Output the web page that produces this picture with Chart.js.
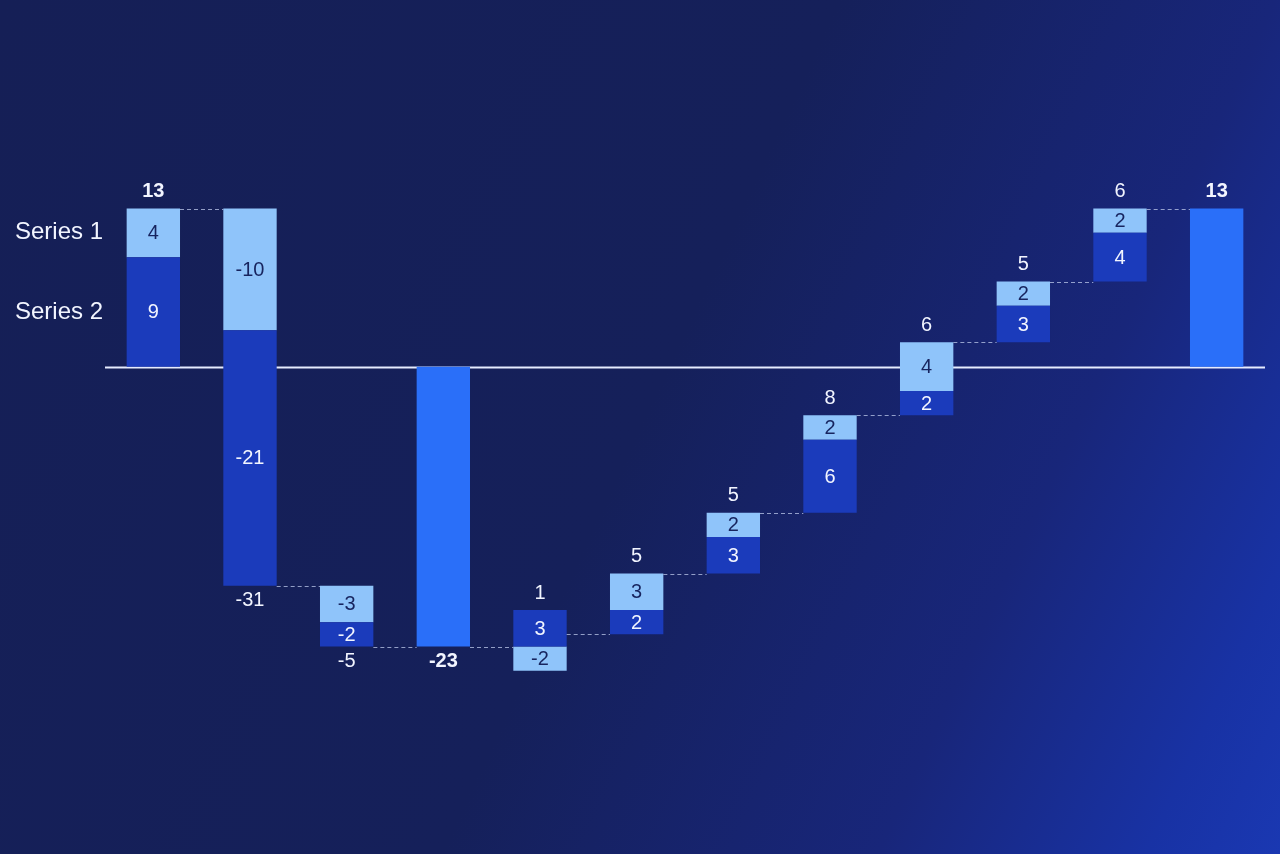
<!DOCTYPE html>
<html>
<head>
<meta charset="utf-8">
<title>Waterfall</title>
<script src="https://cdn.jsdelivr.net/npm/chart.js@4.4.1/dist/chart.umd.min.js"></script>
<style>
  html, body { margin: 0; padding: 0; width: 1280px; height: 854px; overflow: hidden; }
  body { background: linear-gradient(115deg, #151f56 0%, #15205a 50%, #18267a 76%, #1832a4 92%, #1a38b2 100%); }
  #wrap { position: relative; width: 1280px; height: 854px; }
</style>
</head>
<body>
<div id="wrap"><canvas id="chart"></canvas></div>
<script>
// categories are not shown on the chart, only used as slots
const categories = ["Start", "Step 1", "Step 2", "Subtotal", "Step 3", "Step 4", "Step 5", "Step 6", "Step 7", "Step 8", "Step 9", "End"];
const kinds = ["start", "step", "step", "total", "step", "step", "step", "step", "step", "step", "step", "total"];
const series1 = [4, -10, -3, null, -2, 3, 2, 2, 4, 2, 2, null];
const series2 = [9, -21, -2, null, 3, 2, 3, 6, 2, 3, 4, null];
const seriesNames = ["Series 1", "Series 2"];
const yMin = -38, yMax = 28;

const LIGHT = "#8fc4fa", DARK = "#1b3bbb", TOTAL = "#2a6ff9";
const FONT = "'Liberation Sans', Arial, sans-serif";

// build floating ranges for the waterfall
const s1Ranges = [], s2Ranges = [], totalRanges = [], ends = [], nets = [];
let level = 0;
categories.forEach((c, i) => {
  if (kinds[i] === "total") {
    s1Ranges.push(null);
    s2Ranges.push(null);
    totalRanges.push([0, level]);
    nets.push(level);
    ends.push(level);
    return;
  }
  const base = kinds[i] === "start" ? 0 : level;
  let up = base, down = base;
  const r = {};
  // positives go up from the base: series 2 first, then series 1
  [[2, series2[i]], [1, series1[i]]].forEach(([s, v]) => {
    if (v > 0) { r[s] = [up, up + v]; up += v; }
  });
  // negatives go down from the base: series 1 first, then series 2
  [[1, series1[i]], [2, series2[i]]].forEach(([s, v]) => {
    if (v < 0) { r[s] = [down + v, down]; down += v; }
  });
  s1Ranges.push(r[1] || null);
  s2Ranges.push(r[2] || null);
  totalRanges.push(null);
  level = base + series1[i] + series2[i];
  nets.push(kinds[i] === "start" ? level : series1[i] + series2[i]);
  ends.push(level);
});

const waterfallPlugin = {
  id: "waterfall",
  beforeDatasetsDraw(chart) {
    const { ctx, chartArea, scales: { y } } = chart;
    const y0 = Math.round(y.getPixelForValue(0)) + 0.5;
    ctx.save();
    ctx.strokeStyle = "#e6ecff";
    ctx.lineWidth = 2;
    ctx.beginPath();
    ctx.moveTo(chartArea.left, y0);
    ctx.lineTo(chartArea.right, y0);
    ctx.stroke();
    ctx.restore();
  },
  afterDatasetsDraw(chart) {
    const { ctx, scales: { y } } = chart;
    const rangesBy = [s2Ranges, s1Ranges, totalRanges];
    const geo = categories.map((c, i) => {
      const d = rangesBy.findIndex((arr) => arr[i]);
      const el = chart.getDatasetMeta(d).data[i];
      const vals = rangesBy.flatMap((arr) => arr[i] || []);
      return {
        x: el.x,
        half: el.width / 2,
        top: y.getPixelForValue(Math.max(...vals)),
        bottom: y.getPixelForValue(Math.min(...vals))
      };
    });

    ctx.save();
    // dashed connectors between bars
    ctx.strokeStyle = "rgba(190, 202, 235, 0.75)";
    ctx.lineWidth = 1;
    ctx.setLineDash([4, 3]);
    for (let i = 0; i < categories.length - 1; i++) {
      const yy = Math.round(y.getPixelForValue(ends[i])) + 0.5;
      ctx.beginPath();
      ctx.moveTo(geo[i].x + geo[i].half, yy);
      ctx.lineTo(geo[i + 1].x - geo[i + 1].half, yy);
      ctx.stroke();
    }
    ctx.setLineDash([]);

    ctx.textAlign = "center";
    ctx.textBaseline = "middle";
    // values inside segments
    categories.forEach((c, i) => {
      [[s1Ranges[i], series1[i], "#17245e"], [s2Ranges[i], series2[i], "#f2f5ff"]].forEach(([r, v, col]) => {
        if (!r) return;
        const cy = (y.getPixelForValue(r[0]) + y.getPixelForValue(r[1])) / 2;
        ctx.font = "20px " + FONT;
        ctx.fillStyle = col;
        ctx.fillText(String(v), geo[i].x, cy + 1);
      });
      // net / total above or below the bar
      const bold = kinds[i] !== "step";
      ctx.font = (bold ? "bold " : "") + "20px " + FONT;
      ctx.fillStyle = "#f2f5ff";
      const ty = nets[i] >= 0 ? geo[i].top - 17 : geo[i].bottom + 15;
      ctx.fillText(String(nets[i]), geo[i].x, ty);
    });

    // series names next to the first bar
    ctx.textAlign = "left";
    ctx.font = "24px " + FONT;
    ctx.fillStyle = "#f2f5ff";
    [s1Ranges[0], s2Ranges[0]].forEach((r, k) => {
      const cy = (y.getPixelForValue(r[0]) + y.getPixelForValue(r[1])) / 2;
      ctx.fillText(seriesNames[k], 15, cy);
    });
    ctx.restore();
  }
};

const ctx = document.getElementById("chart").getContext("2d");
new Chart(ctx, {
  type: "bar",
  data: {
    labels: categories,
    datasets: [
      { label: "Series 2", data: s2Ranges, backgroundColor: DARK },
      { label: "Series 1", data: s1Ranges, backgroundColor: LIGHT },
      { label: "Total", data: totalRanges, backgroundColor: TOTAL }
    ]
  },
  options: {
    responsive: true,
    maintainAspectRatio: false,
    animation: false,
    datasets: { bar: { barPercentage: 0.552, categoryPercentage: 1, borderWidth: 0 } },
    layout: { padding: { left: 105, right: 15, top: 26, bottom: 25 } },
    scales: {
      x: { stacked: true, display: false },
      y: { stacked: false, display: false, min: yMin, max: yMax }
    },
    plugins: {
      legend: { display: false },
      tooltip: { enabled: false }
    }
  },
  plugins: [waterfallPlugin]
});
</script>
</body>
</html>
